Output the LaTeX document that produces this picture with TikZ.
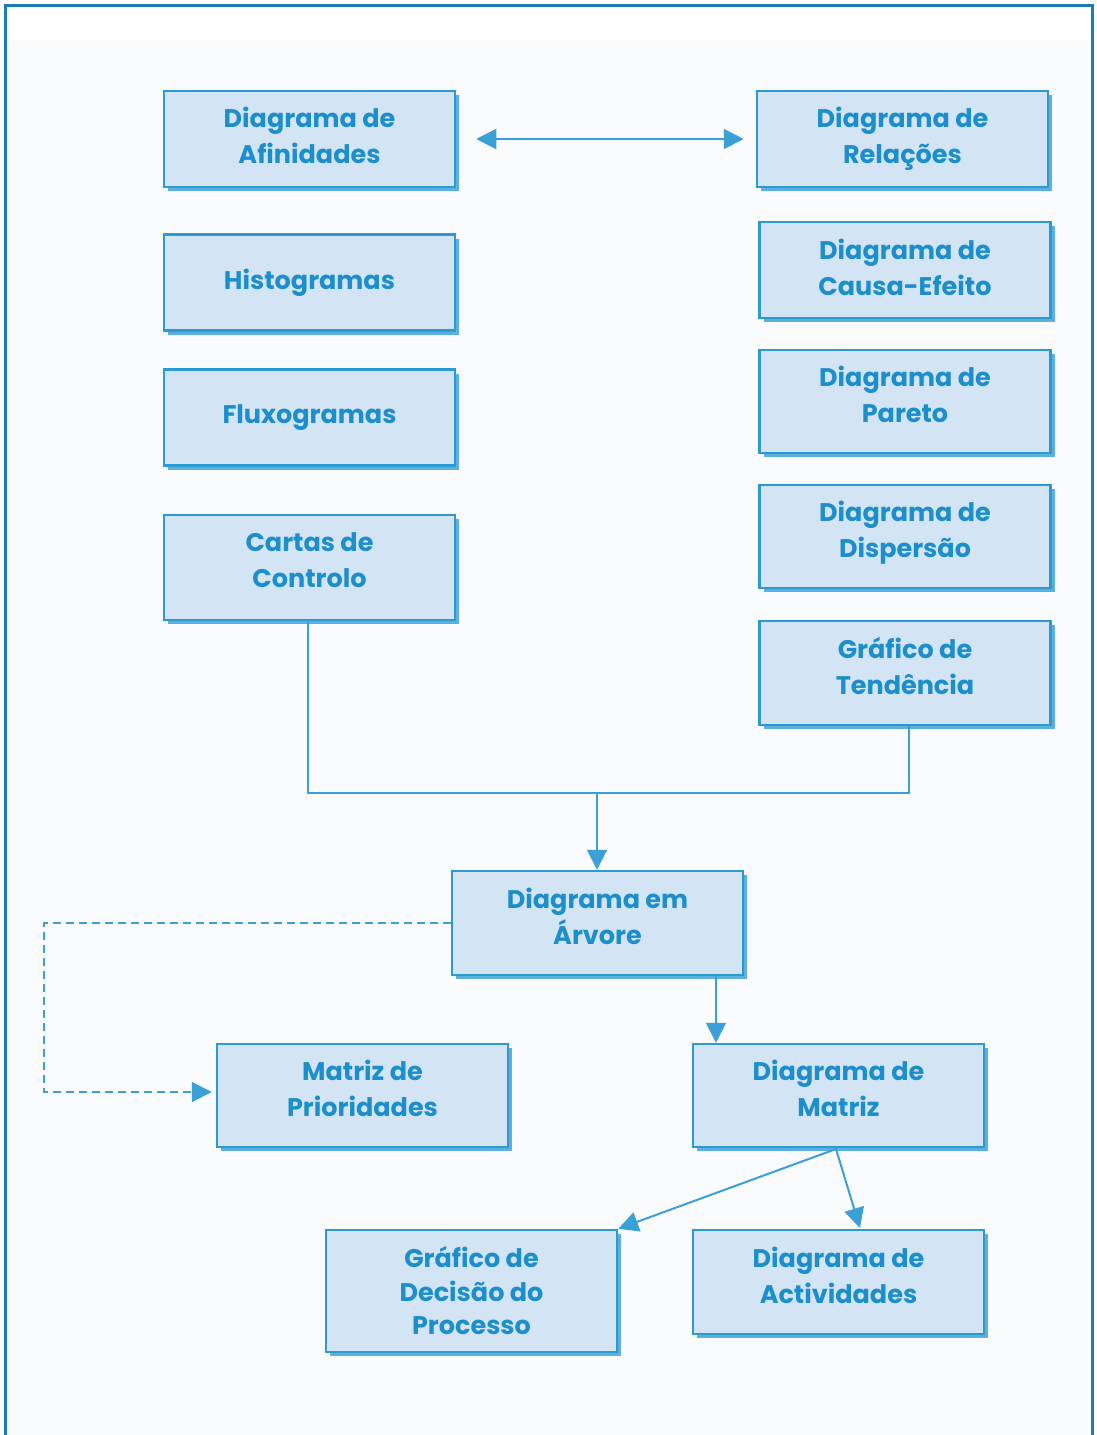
\documentclass[tikz,border=0pt]{standalone}
\usepackage{fontspec}
\setmainfont{Poppins}
\usetikzlibrary{arrows.meta,shadows}
\definecolor{frameblue}{HTML}{1A7DB8}
\definecolor{boxborder}{HTML}{2B9AD3}
\definecolor{boxfill}{HTML}{D3E5F4}
\definecolor{boxtext}{HTML}{1B8ECB}
\definecolor{boxshadow}{HTML}{5BB0DD}
\definecolor{linkblue}{HTML}{3AA0D5}
\definecolor{pagebg}{HTML}{FAFBFD}
\newcommand{\bt}[2][6]{\raisebox{#1pt}[\height][\depth]{\begin{tabular}{@{}c@{}}#2\end{tabular}}}
\begin{document}
\begin{tikzpicture}[x=1pt,y=-1pt,
  box/.style={draw=boxborder,line width=2.5pt,fill=boxfill,minimum width=291pt,minimum height=96pt,
    align=center,text=boxtext,font=\fontsize{25.5}{36}\selectfont\bfseries,inner sep=0pt,
    drop shadow={shadow xshift=4pt,shadow yshift=-4pt,fill=boxshadow,opacity=1}},
  link/.style={draw=linkblue,line width=2pt},
  tip/.style={-{Triangle[length=20pt,width=20pt]}},
  tips/.style={{Triangle[length=20pt,width=20pt]}-{Triangle[length=20pt,width=20pt]}}]
\useasboundingbox (0,0) rectangle (1096,1435);
\fill[white] (0,0) rectangle (1096,1435);
\fill[pagebg] (7,40) rectangle (1090,1435);
\draw[frameblue,line width=3pt] (5,1440) -- (5,5) -- (1092,5) -- (1092,1440);
% boxes
\node[box] (afin) at (309.5,139) {\bt[1]{Diagrama de\\Afinidades}};
\node[box] (rel) at (902.5,139) {\bt[1]{Diagrama de\\Relações}};
\node[box] (hist) at (309.5,282.5) {Histogramas};
\node[box] (causa) at (905,270) {\bt[0]{Diagrama de\\Causa-Efeito}};
\node[box] (flux) at (309.5,417.5) {Fluxogramas};
\node[box,minimum height=103pt] (pareto) at (905,401.5) {\bt[4]{Diagrama de\\Pareto}};
\node[box,minimum height=105pt] (cartas) at (309.5,567.5) {\bt[5]{Cartas de\\Controlo}};
\node[box,minimum height=103pt] (disp) at (905,536.5) {\bt[4]{Diagrama de\\Dispersão}};
\node[box,minimum height=104pt] (tend) at (905,673) {\bt[4]{Gráfico de\\Tendência}};
\node[box,minimum height=104pt] (arvore) at (597.5,923) {\bt[4]{Diagrama em\\Árvore}};
\node[box,minimum height=103pt] (prior) at (362.5,1095.5) {\bt[4]{Matriz de\\Prioridades}};
\node[box,minimum height=103pt] (matriz) at (838.5,1095.5) {\bt[4]{Diagrama de\\Matriz}};
\node[box,minimum height=122pt,font=\fontsize{25.5}{33.5}\selectfont\bfseries] (decisao) at (471.5,1291) {Gráfico de\\Decisão do\\Processo};
\node[box,minimum height=104pt] (activ) at (838.5,1282) {\bt[4]{Diagrama de\\Actividades}};
% connectors
\draw[link,tips,shorten <=20pt,shorten >=12pt] (afin.east) -- (rel.west);
\coordinate (j1) at (308,793);
\coordinate (j2) at (909,793);
\coordinate (jm) at (597,793);
\draw[link] (cartas.south -| j1) -- (j1) -- (j2) -- (tend.south -| j2);
\draw[link,tip] (jm) -- (arvore.north -| jm);
\coordinate (a1) at (716,975);
\draw[link,tip] (arvore.south -| a1) -- (matriz.north -| a1);
\coordinate (d1) at (44,923);
\coordinate (d2) at (44,1092);
\draw[link,dashed,dash pattern=on 8pt off 5pt,tip,shorten >=4pt] (arvore.west |- d1) -- (d1) -- (d2) -- (prior.west |- d2);
\coordinate (m1) at (836,1149);
\draw[link,tip] (m1) -- (decisao.north east);
\draw[link,tip] (m1) -- (860,1228);
\end{tikzpicture}
\end{document}
